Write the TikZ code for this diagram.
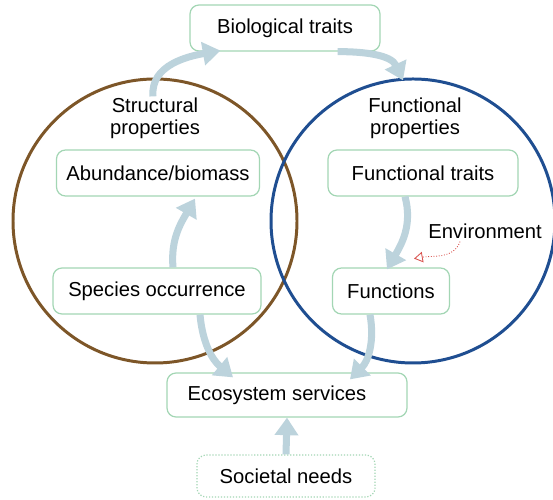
\documentclass[tikz,border=0pt]{standalone}
\usepackage{fontspec}
\setmainfont{Liberation Sans}
\usepackage{xcolor}
\usepackage{tikz}
\usetikzlibrary{shapes, arrows.meta, positioning}

\definecolor{boxgreen}{HTML}{A3D6B4}
\definecolor{ringbrown}{HTML}{7D5628}
\definecolor{ringblue}{HTML}{1F4E91}
\definecolor{flowgrey}{HTML}{BCD3DC}
\definecolor{envred}{HTML}{D9534F}

\begin{document}
\begin{tikzpicture}[
            font=\fontsize{11.5}{12.5}\selectfont,
            box/.style={rectangle, draw=boxgreen, line width=0.7pt, fill=white, rounded corners=0.18cm, minimum height=0.92cm, text centered},
            needbox/.style={box, densely dotted},
            ring/.style={circle, line width=1.7pt, minimum size=5.68cm, inner sep=0pt},
            flow/.style={-{Triangle[length=10pt, width=13pt]}, line width=4pt, flowgrey},
            envflow/.style={-{Triangle[open, length=5pt, width=6pt]}, envred, densely dotted, line width=0.5pt}
        ]
            \useasboundingbox (0,0) rectangle (11.06,10);

            \node[ring, draw=ringbrown] (structring) at (3.10,5.58) {};
            \node[ring, draw=ringblue] (funcring) at (8.26,5.58) {};

            \node[align=center] (structlabel) at (3.10,7.64) {Structural\\properties};
            \node[align=center] (funclabel) at (8.30,7.64) {Functional\\properties};

            \node[box, minimum width=3.8cm] (bio) at (5.70,9.44) {Biological traits};
            \node[box, minimum width=4.06cm] (abund) at (3.16,6.54) {Abundance/biomass};
            \node[box, minimum width=4.16cm] (species) at (3.14,4.18) {Species occurrence};
            \node[box, minimum width=3.8cm] (ftraits) at (8.46,6.54) {Functional traits};
            \node[box, minimum width=2.34cm] (functions) at (7.82,4.18) {Functions};
            \node[box, minimum width=4.8cm, minimum height=0.88cm] (eco) at (5.74,2.10) {Ecosystem services\hspace*{0.4cm}};
            \node[needbox, minimum width=3.56cm, minimum height=0.84cm] (needs) at (5.72,0.48) {Societal needs};
            \node (env) at (9.70,5.38) {Environment};

            \draw[flow] ([xshift=-0.04cm, yshift=-0.1cm]structlabel.north) to[out=95, in=190] ([xshift=0.62cm, yshift=0.02cm]bio.south west);
            \draw[flow] ([xshift=-0.86cm]bio.south east) to[out=0, in=115] ([xshift=-0.24cm, yshift=0.22cm]funclabel.north);
            \draw[flow] ([xshift=0.32cm]species.north) to[out=95, in=-120] ([xshift=0.74cm, yshift=-0.04cm]abund.south);
            \draw[flow] ([xshift=-0.36cm]ftraits.south) to[out=-75, in=60] ([xshift=-0.08cm, yshift=-0.04cm]functions.north);
            \draw[flow] ([xshift=0.86cm]species.south) to[out=-85, in=140] ([xshift=-1.08cm, yshift=-0.1cm]eco.north);
            \draw[flow] ([xshift=-0.42cm]functions.south) to[out=-80, in=45] ([xshift=1.26cm, yshift=-0.14cm]eco.north);
            \draw[flow] (needs.north) -- (eco.south);
            \draw[envflow] ([xshift=-0.5cm, yshift=0.06cm]env.south) to[out=-110, in=10] ([xshift=-1.42cm, yshift=-0.28cm]env.south);
        \end{tikzpicture}
\end{document}
